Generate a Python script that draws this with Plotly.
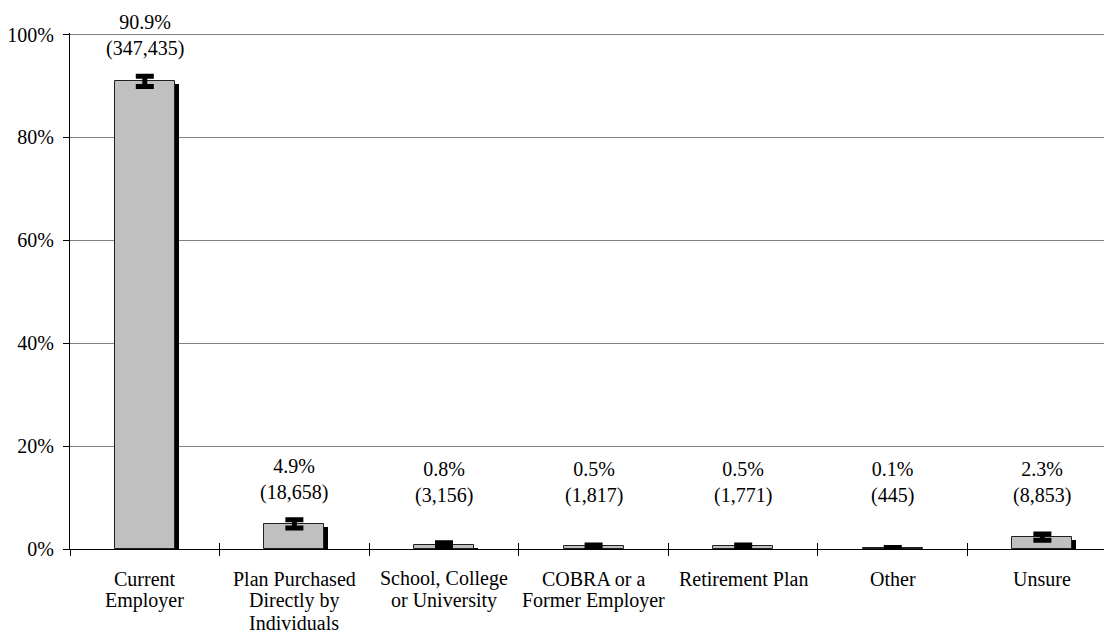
import plotly.graph_objects as go

categories = [
    "Current Employer",
    "Plan Purchased Directly by Individuals",
    "School, College or University",
    "COBRA or a Former Employer",
    "Retirement Plan",
    "Other",
    "Unsure",
]
category_lines = [
    ["Current", "Employer"],
    ["Plan Purchased", "Directly by", "Individuals"],
    ["School, College", "or University"],
    ["COBRA or a", "Former Employer"],
    ["Retirement Plan"],
    ["Other"],
    ["Unsure"],
]
percents = [90.9, 4.9, 0.8, 0.5, 0.5, 0.1, 2.3]
counts = [347435, 18658, 3156, 1817, 1771, 445, 8853]
errors = [1.0, 0.8, 0.4, 0.3, 0.3, 0.2, 0.6]
y_ticks = [0, 20, 40, 60, 80, 100]

FONT = "Liberation Serif"
FS = 20
BAR_W = 0.4
SHADOW_DX = 0.027
SHADOW_DY = 0.6
LABEL_FLOOR = 5.1
LABEL_SHIFT = 14
XLAB_FIRST = 29.5
XLAB_STEP = 22

fig = go.Figure()

# shadow
fig.add_trace(go.Bar(
    x=categories, y=percents, base=[-SHADOW_DY] * len(percents),
    width=BAR_W, offset=-BAR_W / 2 + SHADOW_DX,
    marker=dict(color="black", line=dict(width=0)),
    hoverinfo="skip", showlegend=False,
))
# main bars
fig.add_trace(go.Bar(
    x=categories, y=percents,
    width=BAR_W, offset=-BAR_W / 2,
    marker=dict(color="#c0c0c0", line=dict(color="#202020", width=1)),
    error_y=dict(type="data", array=errors, color="black", thickness=5, width=9),
    showlegend=False,
))

for c, p, n, e in zip(categories, percents, counts, errors):
    fig.add_annotation(
        x=c, y=max(p + e, LABEL_FLOOR), xref="x", yref="y",
        text=f"{p}%<br>({n:,})", showarrow=False,
        yanchor="bottom", yshift=LABEL_SHIFT,
        font=dict(family=FONT, size=FS, color="black"),
    )

for c, lines in zip(categories, category_lines):
    for i, line in enumerate(lines):
        fig.add_annotation(
            x=c, y=0, xref="x", yref="paper", text=line, showarrow=False,
            yanchor="middle", yshift=-(XLAB_FIRST + XLAB_STEP * i),
            font=dict(family=FONT, size=FS, color="black"),
        )

fig.update_layout(
    width=1104, height=637,
    margin=dict(l=70, r=0, t=33, b=88, autoexpand=False),
    plot_bgcolor="white", paper_bgcolor="white",
    barmode="overlay", bargap=0,
    font=dict(family=FONT, size=FS, color="black"),
    xaxis=dict(
        type="category", range=[-0.5, 6.412], automargin=False,
        showticklabels=False,
        showline=True, linecolor="black", linewidth=1,
        ticks="outside", tickson="boundaries", ticklen=6, tickcolor="black",
        showgrid=False,
    ),
    xaxis2=dict(
        matches="x", overlaying="x", anchor="y", side="bottom",
        type="category", range=[-0.5, 6.412], automargin=False,
        ticks="inside", tickson="boundaries", ticklen=6, tickcolor="black",
        showticklabels=False, showgrid=False, showline=False,
    ),
    yaxis=dict(
        range=[0, 100.3], tickmode="array", tickvals=y_ticks,
        ticktext=[f"{t}%" for t in y_ticks],
        automargin=False,
        showline=True, linecolor="black", linewidth=1,
        ticks="outside", ticklen=6, tickcolor="black",
        ticklabelstandoff=5,
        showgrid=True, gridcolor="#808080", gridwidth=1,
        zeroline=False,
    ),
)

fig.add_trace(go.Scatter(x=categories, y=[None] * len(categories), xaxis="x2",
                         mode="markers", showlegend=False, hoverinfo="skip"))

fig.write_html("out.html", config={"displayModeBar": False},
               post_script="document.body.style.margin='0';")
